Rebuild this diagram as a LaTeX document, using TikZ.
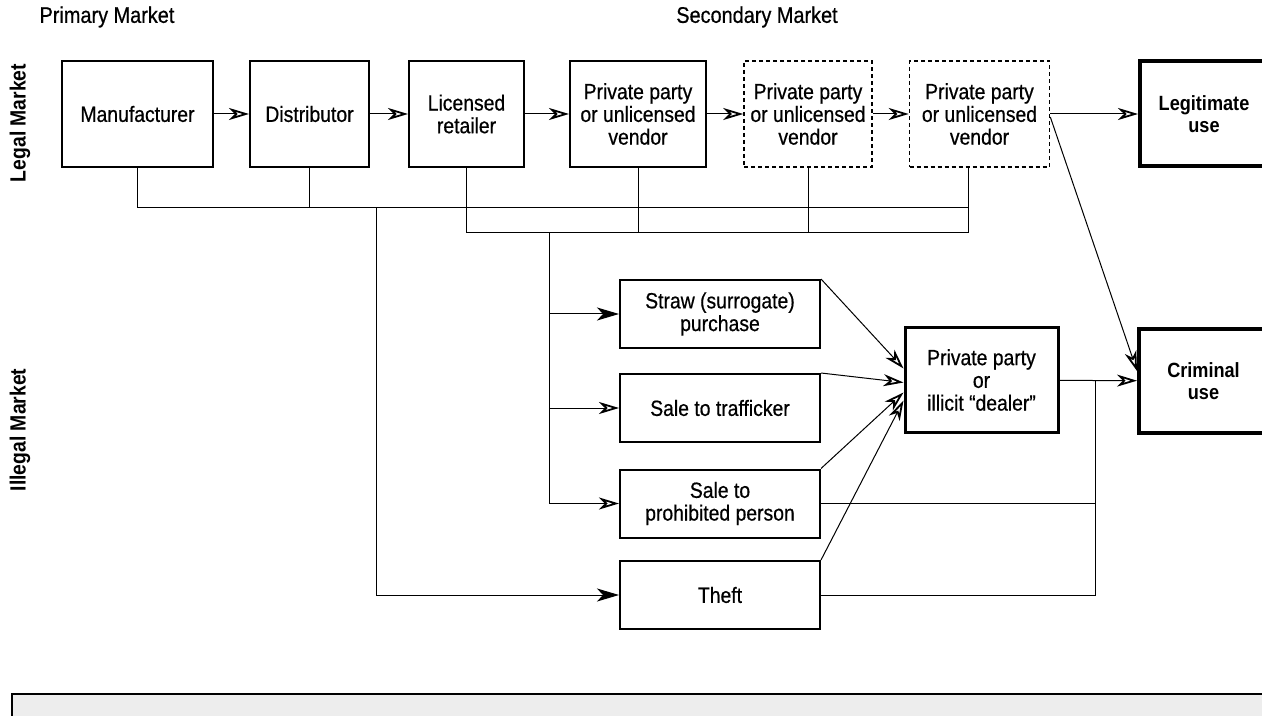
\documentclass[tikz,border=0pt]{standalone}
\usepackage{fontspec}
\setsansfont{Liberation Sans}[FakeStretch=0.88]
\newfontfamily\boxfont{Liberation Sans}[FakeStretch=0.88, FakeBold=0.6]
\usetikzlibrary{arrows.meta}
\usetikzlibrary{shapes}

\begin{document}
\begin{tikzpicture}[x = 0.5pt, y = -0.5pt, font=\sffamily]
	\tikzstyle{boxStyle}=[shape = rectangle, draw, line width = 1pt, align = center, inner sep = 1pt, font = \boxfont\fontsize{11}{11.35}\selectfont]
	\tikzstyle{dashedStyle}=[boxStyle, line width = 0.8pt, dash pattern = on 2pt off 1.5pt]
	\tikzstyle{dealerStyle}=[boxStyle, line width = 1.5pt]
	\tikzstyle{useStyle}=[boxStyle, line width = 2pt, font = \sffamily\bfseries\fontsize{10.3}{11.35}\selectfont]
	\tikzstyle{headStyle}=[font = \boxfont\fontsize{11.3}{13}\selectfont]
	\tikzstyle{sideStyle}=[rotate = 90, font = \sffamily\bfseries\fontsize{11}{13}\selectfont]
	\tikzstyle{lineStyle}=[line width = 0.5pt]
	\tikzstyle{openArrow}=[lineStyle, -{Stealth[open, length = 10pt, width = 6pt, inset = 3pt, line width = 0.9pt]}]
	\tikzstyle{fullArrow}=[lineStyle, -{Stealth[length = 11pt, width = 6.5pt, inset = 3pt]}]
	\useasboundingbox (0, 0) rectangle (1262, 716);
	\node[headStyle] (primary) at (107, 17) {Primary Market};
	\node[headStyle] (secondary) at (757, 17) {Secondary Market};
	\node[sideStyle] (legal) at (20, 123) {Legal Market};
	\node[sideStyle] (illegal) at (20, 430) {Illegal Market};
	\node[boxStyle, minimum width = 75.5pt, minimum height = 53pt] (manufacturer) at (137.5, 114) {Manufacturer};
	\node[boxStyle, minimum width = 59.5pt, minimum height = 53pt] (distributor) at (309.5, 114) {Distributor};
	\node[boxStyle, minimum width = 57.5pt, minimum height = 53pt] (retailer) at (466.5, 114) {Licensed\\retailer};
	\node[boxStyle, minimum width = 68pt, minimum height = 53pt] (vendor1) at (638, 114) {Private party\\or unlicensed\\vendor};
	\node[dashedStyle, minimum width = 64pt, minimum height = 53pt] (vendor2) at (808, 114) {Private party\\or unlicensed\\vendor};
	\node[dashedStyle, minimum width = 70pt, minimum height = 53pt] (vendor3) at (979.5, 114) {Private party\\or unlicensed\\vendor};
	\node[useStyle, minimum width = 64pt, minimum height = 52.5pt] (legitimate) at (1204, 114) {Legitimate\\use};
	\node[boxStyle, minimum width = 100pt, minimum height = 34pt] (straw) at (720, 314) {Straw (surrogate)\\purchase};
	\node[boxStyle, minimum width = 100pt, minimum height = 34pt] (trafficker) at (720, 408) {Sale to trafficker};
	\node[boxStyle, minimum width = 100pt, minimum height = 34pt] (prohibited) at (720, 503.5) {Sale to\\prohibited person};
	\node[boxStyle, minimum width = 100pt, minimum height = 34pt] (theft) at (720, 595) {Theft};
	\node[dealerStyle, minimum width = 76.5pt, minimum height = 52.5pt] (dealer) at (981.5, 380) {Private party\\or\\illicit “dealer”};
	\node[useStyle, minimum width = 64.5pt, minimum height = 51.5pt] (criminal) at (1203.5, 381) {Criminal\\use};
	\coordinate (busA) at (968, 208);
	\coordinate (busB) at (968, 233);
	\coordinate (tapA) at (376, 208);
	\coordinate (tapB) at (549, 233);
	\coordinate (merge) at (1095, 381);
	\draw[openArrow] (manufacturer) -- (distributor);
	\draw[openArrow] (distributor) -- (retailer);
	\draw[openArrow] (retailer) -- (vendor1);
	\draw[openArrow] (vendor1) -- (vendor2);
	\draw[openArrow] (vendor2) -- (vendor3);
	\draw[openArrow] (vendor3) -- (legitimate);
	\draw[lineStyle] (manufacturer.south) |- (busA);
	\draw[lineStyle] (distributor.south) -- (distributor.south |- busA);
	\draw[lineStyle] (retailer.south) |- (busB);
	\draw[lineStyle] (vendor1.south) -- (vendor1.south |- busB);
	\draw[lineStyle] (vendor2.south) -- (vendor2.south |- busB);
	\draw[lineStyle] (busA |- vendor3.south) -- (busB);
	\draw[fullArrow] (tapA) |- (theft.west);
	\draw[fullArrow] (tapB) |- (straw.west);
	\draw[openArrow] (tapB) |- (trafficker.west);
	\draw[openArrow] (tapB) |- (prohibited.west);
	\draw[openArrow] (straw.north east) -- ([yshift = 5.75pt]dealer.west);
	\draw[openArrow] (trafficker.north east) -- ([yshift = -1.25pt]dealer.west);
	\draw[openArrow] (prohibited.north east) -- ([yshift = -6.25pt]dealer.west);
	\draw[openArrow] (theft.north east) -- ([yshift = -10.25pt]dealer.west);
	\draw[openArrow] (dealer) -- (criminal);
	\draw[lineStyle] (prohibited.east) -| (merge);
	\draw[lineStyle] (theft.east) -| (merge);
	\draw[openArrow] ([yshift = -1.5pt]vendor3.east) -- ([yshift = 5pt]criminal.west);
	\fill[black!7] (12, 694) rectangle (1270, 720);
	\draw[line width = 1pt] (12, 720) |- (1270, 694);
\end{tikzpicture}
\end{document}
